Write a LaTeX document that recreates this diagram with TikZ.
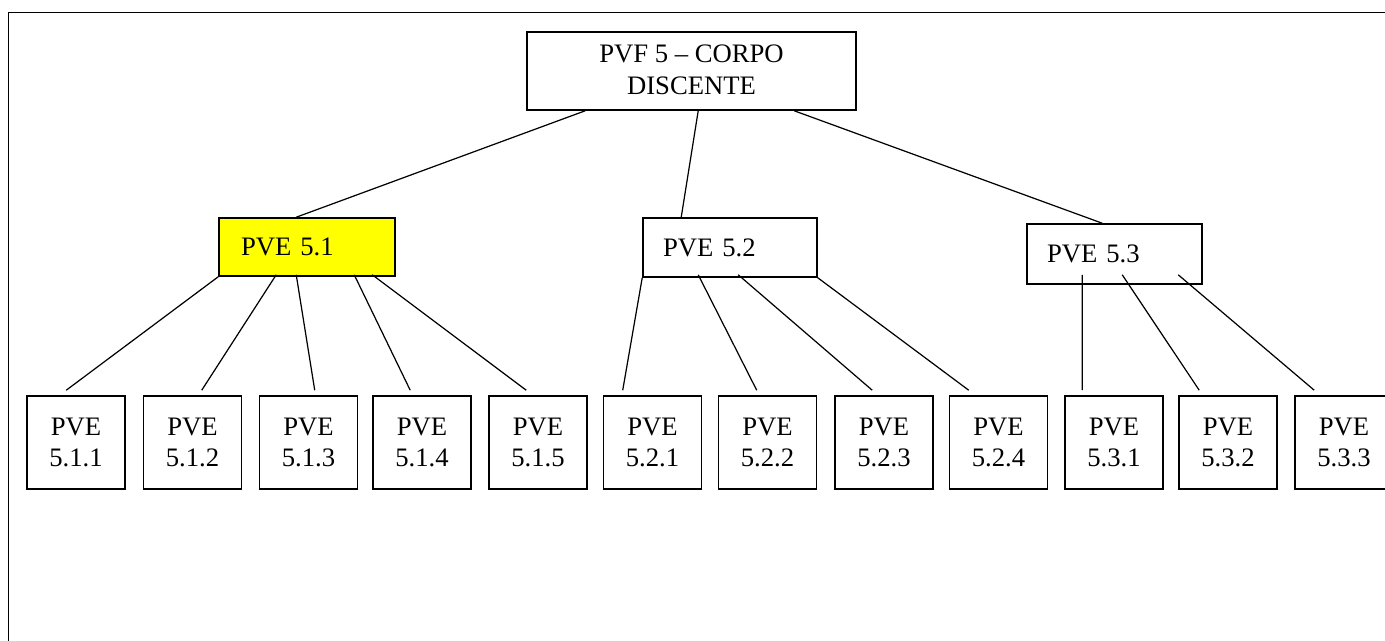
\documentclass[tikz,border=0pt]{standalone}
\usepackage{fontspec}
\setmainfont{Liberation Serif}
\usetikzlibrary{calc}
\definecolor{hilite}{HTML}{FFFF00}
\begin{document}
\begin{tikzpicture}[x=0.45pt,y=-0.45pt,
  box/.style={draw,line width=0.7pt,inner sep=0pt,font=\fontsize{12}{14}\selectfont},
  leaf/.style={box,minimum width=44.1pt,minimum height=41.85pt,align=center},
  mid/.style={box,align=left,inner xsep=9pt},
  link/.style={line width=0.55pt}]
\useasboundingbox (0,0) rectangle (1385,641);
\clip (0,0) rectangle (1385,641);
% page frame
\draw[line width=0.7pt] (8.5,641) -- (8.5,12.5) -- (1385,12.5);

% root
\node[box,font=\fontsize{12}{14.4}\selectfont,minimum width=148.05pt,minimum height=35.1pt,
      align=center,text depth=1.5pt] (top) at (691.5,71)
  {PVF 5 – CORPO\\DISCENTE};

% second level
\node[mid,fill=hilite,inner xsep=9.9pt,text width=59.4pt,minimum height=26.1pt] (p51) at (307,247) {PVE 5.1};
\node[mid,text width=60.3pt,minimum height=26.55pt] (p52) at (730,247.5) {PVE 5.2};
\node[mid,text width=60.75pt,minimum height=27pt] (p53) at (1114.5,254) {PVE 5.3};

% leaves
\foreach \x/\g/\k in {76/1/1,192.5/1/2,308.5/1/3,422/1/4,538/1/5,
                      652.5/2/1,767.5/2/2,884/2/3,998.5/2/4,
                      1114/3/1,1228/3/2,1344/3/3}
  \node[leaf] (l\g\k) at (\x,442.5) {PVE\\5.\g.\k};

% root to second level
\draw[link] ($(top.south west)+(59,0)$)  -- ($(p51.north west)+(78,0)$);
\draw[link] ($(top.south west)+(172,0)$) -- ($(p52.north west)+(39,0)$);
\draw[link] ($(top.south west)+(268,0)$) -- ($(p53.north west)+(76,0)$);

% PVE 5.1 branch
\draw[link] (p51.south west)                -- ($(l11.north west)+(40,-5)$);
\draw[link] ($(p51.south west)+(58,-2)$)  -- ($(l12.north west)+(59,-5)$);
\draw[link] ($(p51.south west)+(78,-2)$)  -- ($(l13.north west)+(56,-5)$);
\draw[link] ($(p51.south west)+(136,-2)$) -- ($(l14.north west)+(38,-5)$);
\draw[link] ($(p51.south west)+(154,-2)$) -- ($(l15.north west)+(38,-5)$);

% PVE 5.2 branch
\draw[link] (p52.south west)                -- ($(l21.north west)+(20,-5)$);
\draw[link] ($(p52.south west)+(56,-3)$)  -- ($(l22.north west)+(39,-5)$);
\draw[link] ($(p52.south west)+(96,-3)$)  -- ($(l23.north west)+(38,-5)$);
\draw[link] (p52.south east)                -- ($(l24.north west)+(20,-5)$);

% PVE 5.3 branch
\draw[link] ($(p53.south west)+(56,-10)$)  -- ($(l31.north west)+(18,-5)$);
\draw[link] ($(p53.south west)+(96,-10)$)  -- ($(l32.north west)+(21,-5)$);
\draw[link] ($(p53.south west)+(152,-10)$) -- ($(l33.north west)+(20,-5)$);
\end{tikzpicture}
\end{document}
